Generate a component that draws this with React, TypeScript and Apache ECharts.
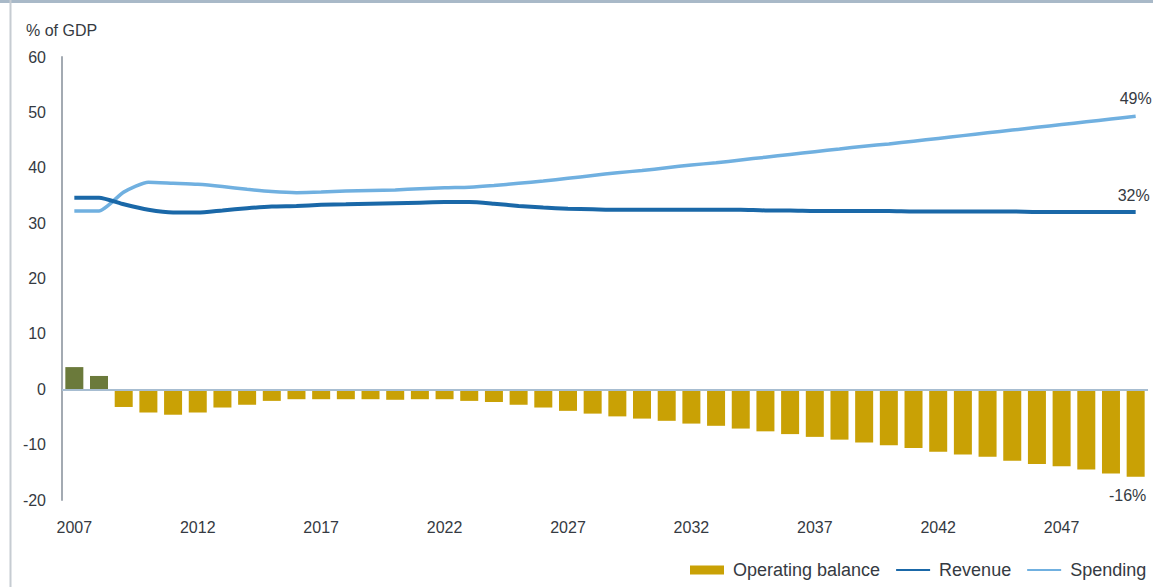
import React, { useEffect, useRef } from "react";
import * as echarts from "echarts";

const years = [
  "2007", "2008", "2009", "2010", "2011", "2012", "2013", "2014", "2015", "2016",
  "2017", "2018", "2019", "2020", "2021", "2022", "2023", "2024", "2025", "2026",
  "2027", "2028", "2029", "2030", "2031", "2032", "2033", "2034", "2035", "2036",
  "2037", "2038", "2039", "2040", "2041", "2042", "2043", "2044", "2045", "2046",
  "2047", "2048", "2049", "2050",
];

const operatingBalance = [
  4.0, 2.4, -3.2, -4.2, -4.6, -4.2, -3.3, -2.8, -2.1, -1.8,
  -1.8, -1.8, -1.8, -1.9, -1.8, -1.8, -2.1, -2.3, -2.8, -3.3,
  -3.9, -4.4, -4.9, -5.3, -5.7, -6.2, -6.6, -7.1, -7.6, -8.1,
  -8.6, -9.1, -9.6, -10.1, -10.6, -11.3, -11.8, -12.2, -12.9, -13.5,
  -13.9, -14.5, -15.2, -15.8,
];

const revenue = [
  34.6, 34.6, 33.4, 32.4, 31.9, 31.9, 32.3, 32.7, 33.0, 33.1,
  33.3, 33.4, 33.5, 33.6, 33.7, 33.8, 33.8, 33.5, 33.1, 32.8,
  32.6, 32.5, 32.4, 32.4, 32.4, 32.4, 32.4, 32.4, 32.3, 32.3,
  32.2, 32.2, 32.2, 32.2, 32.1, 32.1, 32.1, 32.1, 32.1, 32.0,
  32.0, 32.0, 32.0, 32.0,
];

const spending = [
  32.2, 32.2, 35.6, 37.4, 37.2, 37.0, 36.6, 36.1, 35.7, 35.5,
  35.6, 35.8, 35.9, 36.0, 36.2, 36.4, 36.5, 36.8, 37.2, 37.6,
  38.1, 38.6, 39.1, 39.5, 40.0, 40.5, 40.9, 41.4, 41.9, 42.4,
  42.9, 43.4, 43.9, 44.3, 44.8, 45.3, 45.8, 46.3, 46.8, 47.3,
  47.8, 48.3, 48.8, 49.3,
];

const yTicks = { min: -20, max: 60, interval: 10 };

const endLabels = { spending: "49%", revenue: "32%", balance: "-16%" };

const GOLD = "#c9a105";
const OLIVE = "#6b7a3b";
const DARK_BLUE = "#1a68a8";
const LIGHT_BLUE = "#70b0e0";
const TEXT = "#353a42";
const FONT = "Liberation Sans, Arial, sans-serif";

export default function App() {
  const ref = useRef<HTMLDivElement>(null);

  useEffect(() => {
    if (!ref.current) return;
    const chart = echarts.init(ref.current, undefined, { renderer: "svg" });
    const last = years.length - 1;

    const barData = operatingBalance.map((v, i) => {
      const item: any = { value: v };
      if (v > 0) item.itemStyle = { color: OLIVE };
      if (i === last) {
        item.label = {
          show: true,
          position: "bottom",
          distance: 11,
          offset: [-8, 0],
          formatter: endLabels.balance,
          color: TEXT,
          fontSize: 16,
          fontFamily: FONT,
        };
      }
      return item;
    });

    const endLabel = (text: string, dx: number, dy: number) => ({
      show: true,
      formatter: text,
      offset: [dx, dy],
      color: TEXT,
      fontSize: 16,
      fontFamily: FONT,
    });

    chart.setOption({
      animation: false,
      textStyle: { fontFamily: FONT },
      title: {
        text: "% of GDP",
        left: 26,
        top: 22,
        padding: 0,
        textStyle: { fontSize: 16, fontWeight: "normal", color: TEXT, fontFamily: FONT },
      },
      graphic: [
        {
          type: "line",
          shape: { x1: 0, y1: 1.5, x2: 1153, y2: 1.5 },
          style: { stroke: "#a9b9c8", lineWidth: 3 },
          silent: true,
        },
        {
          type: "line",
          shape: { x1: 10.5, y1: 0, x2: 10.5, y2: 587 },
          style: { stroke: "#c6ccd2", lineWidth: 2 },
          silent: true,
        },
      ],
      legend: {
        left: 690,
        top: 561,
        width: 800,
        padding: 0,
        itemGap: 15,
        itemWidth: 34,
        itemHeight: 9,
        textStyle: { fontSize: 18, color: TEXT, fontFamily: FONT, padding: [0, 0, 0, 4] },
        data: [
          { name: "Operating balance", icon: "rect" },
          { name: "Revenue", itemStyle: { opacity: 0 } },
          { name: "Spending", itemStyle: { opacity: 0 } },
        ],
      },
      grid: { left: 62, right: 5, top: 57, bottom: 87, containLabel: false },
      xAxis: {
        type: "category",
        data: years,
        boundaryGap: true,
        axisLine: { show: false, onZero: false },
        axisTick: { show: false },
        splitLine: { show: false },
        axisLabel: {
          interval: 4,
          margin: 19,
          fontSize: 16,
          color: TEXT,
          fontFamily: FONT,
        },
      },
      yAxis: {
        type: "value",
        min: yTicks.min,
        max: yTicks.max,
        interval: yTicks.interval,
        axisLine: { show: true, lineStyle: { color: "#a3aab2", width: 2 } },
        axisTick: { show: false },
        splitLine: { show: false },
        axisLabel: { margin: 16, fontSize: 16, color: TEXT, fontFamily: FONT },
      },
      series: [
        {
          name: "Operating balance",
          type: "bar",
          data: barData,
          barWidth: 18,
          itemStyle: { color: GOLD },
          markLine: {
            silent: true,
            symbol: "none",
            label: { show: false },
            lineStyle: { color: "#a7bdd1", width: 2, type: "solid" },
            data: [{ yAxis: 0 }],
          },
          z: 2,
        },
        {
          name: "Revenue",
          type: "line",
          data: revenue,
          symbol: "none",
          smooth: 0.2,
          lineStyle: { color: DARK_BLUE, width: 4 },
          itemStyle: { color: DARK_BLUE },
          endLabel: endLabel(endLabels.revenue, -26, -17),
          z: 4,
        },
        {
          name: "Spending",
          type: "line",
          data: spending,
          symbol: "none",
          smooth: 0.2,
          lineStyle: { color: LIGHT_BLUE, width: 3.5 },
          itemStyle: { color: LIGHT_BLUE },
          endLabel: endLabel(endLabels.spending, -24, -18),
          z: 3,
        },
      ],
    });

    return () => chart.dispose();
  }, []);

  return (
    <div
      ref={ref}
      style={{ position: "fixed", left: 0, top: 0, width: 1153, height: 587, background: "#fff" }}
    />
  );
}
